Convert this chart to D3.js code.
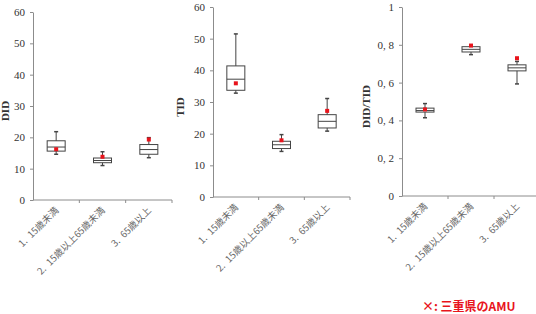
<!DOCTYPE html>
<html>
<head>
<meta charset="utf-8">
<script src="https://cdn.jsdelivr.net/npm/d3@7"></script>
<style>
    body { margin: 0; background: #fff; }
    .axis path, .axis line { stroke: #8c8c8c; }
    .axis text { font-family: "Liberation Serif", "DejaVu Serif", serif; font-size: 11px; fill: #333; }
    .cat text { font-family: "Noto Sans CJK JP", sans-serif; font-size: 9.5px; fill: #666; }
    .title { font-family: "Liberation Serif", "DejaVu Serif", serif; font-size: 11px; font-weight: bold; fill: #333; }
</style>
</head>
<body>
<div id="chart"></div>
<script>
const categories = ["1.\u200215歳未満", "2.\u200215歳以上65歳未満", "3.\u200265歳以上"]

// box stats per panel: whisker low, Q1, median, Q3, whisker high, and the Mie value (red)
const didLow = [14.6, 11.0, 13.5]
const didQ1 = [15.6, 11.9, 14.6]
const didMed = [16.9, 12.6, 16.1]
const didQ3 = [18.9, 13.4, 17.7]
const didHigh = [21.8, 15.4, 19.9]
const didMie = [16.2, 13.8, 19.3]

const tidLow = [32.8, 14.4, 20.8]
const tidQ1 = [33.7, 15.3, 21.8]
const tidMed = [37.2, 16.5, 23.9]
const tidQ3 = [41.4, 17.6, 26.0]
const tidHigh = [51.5, 19.7, 31.1]
const tidMie = [35.9, 17.9, 27.2]

const ratioLow = [0.414, 0.748, 0.593]
const ratioQ1 = [0.444, 0.762, 0.662]
const ratioMed = [0.452, 0.776, 0.678]
const ratioQ3 = [0.465, 0.790, 0.694]
const ratioHigh = [0.489, 0.792, 0.712]
const ratioMie = [0.458, 0.796, 0.729]

const didTicks = [0, 10, 20, 30, 40, 50, 60]
const tidTicks = [0, 10, 20, 30, 40, 50, 60]
const ratioTicks = [0, 0.2, 0.4, 0.6, 0.8, 1]

const svg = d3.select("#chart").append("svg")
    .attr("width", 536)
    .attr("height", 314)

function makeRows(low, q1, med, q3, high, mie) {
    return categories.map((c, i) => ({ cat: c, low: low[i], q1: q1[i], med: med[i], q3: q3[i], high: high[i], mie: mie[i] }))
}

function drawPanel(rows, ticks, max, fmt, title, box) {
    const g = svg.append("g")

    const y = d3.scaleLinear().domain([0, max]).range([box.bottom, box.top])
    const x = d3.scaleBand().domain(categories).range([box.left, box.right])

    // y axis
    g.append("g")
        .attr("class", "axis")
        .attr("transform", `translate(${box.left},0)`)
        .call(d3.axisLeft(y).tickValues(ticks).tickSize(3).tickSizeOuter(0).tickFormat(fmt))
        .call(a => a.selectAll("text").attr("x", -8))

    // x axis with ticks on the band edges
    const xa = g.append("g")
        .attr("class", "axis cat")
        .attr("transform", `translate(0,${box.bottom})`)
    xa.append("line")
        .attr("x1", box.left).attr("x2", box.right)
        .attr("stroke", "#8c8c8c")
    xa.selectAll(".edge")
        .data(categories)
        .enter().append("line")
        .attr("x1", d => x(d) + x.bandwidth())
        .attr("x2", d => x(d) + x.bandwidth())
        .attr("y1", 0).attr("y2", 3)
        .attr("stroke", "#8c8c8c")
    xa.selectAll("text")
        .data(categories)
        .enter().append("text")
        .attr("transform", d => `translate(${x(d) + x.bandwidth() / 2 + 3},${11}) rotate(-45)`)
        .attr("text-anchor", "end")
        .text(d => d)

    // y title
    g.append("text")
        .attr("class", "title")
        .attr("transform", `translate(${box.titleX},${(box.top + box.bottom) / 2 + 5}) rotate(-90)`)
        .attr("text-anchor", "middle")
        .text(title)

    const bw = 18
    const cx = d => x(d.cat) + x.bandwidth() / 2
    const boxes = g.selectAll(".box").data(rows).enter().append("g")

    boxes.append("line")
        .attr("x1", cx).attr("x2", cx)
        .attr("y1", d => y(d.low)).attr("y2", d => y(d.high))
        .attr("stroke", "#444").attr("stroke-width", 1)
    boxes.append("line")
        .attr("x1", d => cx(d) - 2).attr("x2", d => cx(d) + 2)
        .attr("y1", d => y(d.high)).attr("y2", d => y(d.high))
        .attr("stroke", "#444").attr("stroke-width", 1.5)
    boxes.append("line")
        .attr("x1", d => cx(d) - 2).attr("x2", d => cx(d) + 2)
        .attr("y1", d => y(d.low)).attr("y2", d => y(d.low))
        .attr("stroke", "#444").attr("stroke-width", 1.5)
    boxes.append("rect")
        .attr("x", d => cx(d) - bw / 2)
        .attr("y", d => y(d.q3))
        .attr("width", bw)
        .attr("height", d => y(d.q1) - y(d.q3))
        .attr("fill", "#fff").attr("stroke", "#444").attr("stroke-width", 1)
    boxes.append("line")
        .attr("x1", d => cx(d) - bw / 2).attr("x2", d => cx(d) + bw / 2)
        .attr("y1", d => y(d.med)).attr("y2", d => y(d.med))
        .attr("stroke", "#444").attr("stroke-width", 1)

    // Mie prefecture value
    boxes.append("rect")
        .attr("x", d => cx(d) - 2)
        .attr("y", d => y(d.mie) - 2)
        .attr("width", 4).attr("height", 4)
        .attr("fill", "#e8141c")
}

drawPanel(makeRows(didLow, didQ1, didMed, didQ3, didHigh, didMie), didTicks, 60, d3.format("d"), "DID",
    { left: 33, right: 172, top: 12, bottom: 200, titleX: 9 })
drawPanel(makeRows(tidLow, tidQ1, tidMed, tidQ3, tidHigh, tidMie), tidTicks, 60, d3.format("d"), "TID",
    { left: 213, right: 350, top: 7, bottom: 197, titleX: 184 })
drawPanel(makeRows(ratioLow, ratioQ1, ratioMed, ratioQ3, ratioHigh, ratioMie), ratioTicks, 1,
    d => d === 0 || d === 1 ? String(d) : d3.format(".1f")(d).replace(".", ", "), "DID/TID",
    { left: 402, right: 540, top: 7, bottom: 196, titleX: 370 })

// note
svg.append("text")
    .attr("x", 422)
    .attr("y", 311)
    .attr("fill", "#e8141c")
    .style("font-family", "'Noto Sans CJK JP', sans-serif")
    .style("font-size", "12px")
    .style("font-weight", "bold")
    .text("×: 三重県のAMU")
</script>
</body>
</html>
